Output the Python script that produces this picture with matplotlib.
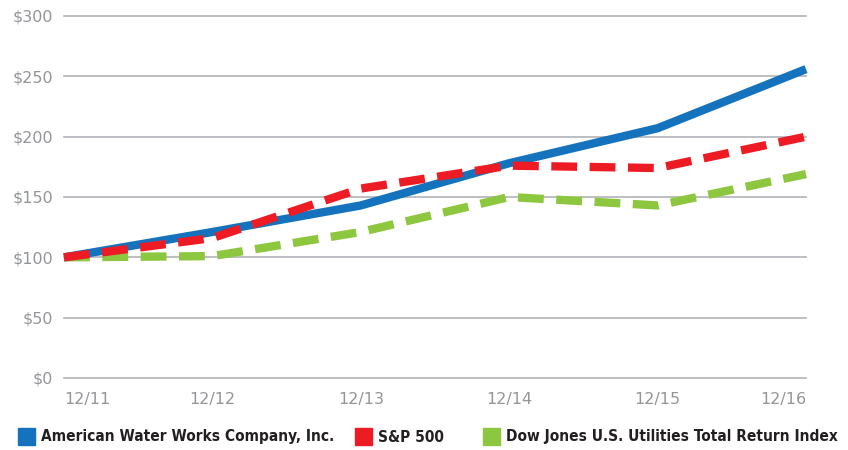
import numpy as np
import matplotlib
matplotlib.use('Agg')
import matplotlib.pyplot as plt
from matplotlib.patches import Rectangle

# data
periods = ['12/11', '12/12', '12/13', '12/14', '12/15', '12/16']
awk = [100, 121, 143, 178, 207, 256]
sp500 = [100, 116, 157, 176, 174, 200]
dj_util = [100, 101, 121, 150, 143, 169]
names = ['American Water Works Company, Inc.', 'S&P 500',
         'Dow Jones U.S. Utilities Total Return Index']
colors = ['#1473bc', '#ed1c24', '#8dc63f']

fig = plt.figure(figsize=(8.48, 4.5), dpi=100)
ax = fig.add_axes([64/848, 1-378/450, (806-64)/848, (378-16)/450])

x = np.arange(len(periods))
ax.plot(x, awk, color=colors[0], lw=6, solid_capstyle='butt', zorder=3, clip_on=False)
ax.plot(x, sp500, color=colors[1], lw=6, dashes=(3.1, 1.5), dash_capstyle='butt', zorder=4, clip_on=False)
ax.plot(x, dj_util, color=colors[2], lw=6, dashes=(3.1, 1.5), dash_capstyle='butt', zorder=2, clip_on=False)

ax.set_xlim(0, 5)
ax.set_ylim(0, 300)
ax.set_yticks(np.arange(0, 301, 50))
ax.set_yticklabels(['$%d' % v for v in range(0, 301, 50)])
for v in range(0, 301, 50):
    ax.axhline(v, color='#b1b3b6', lw=1.2, zorder=1, clip_on=False)
for s in ax.spines.values():
    s.set_visible(False)
ax.tick_params(axis='both', length=0, colors='#939598', labelsize=11.5)
ax.tick_params(axis='y', pad=8)
ax.tick_params(axis='x', pad=10)
ax.set_xticks(x)
ax.set_xticklabels(periods)
labs = ax.get_xticklabels()
labs[0].set_ha('left')
labs[-1].set_ha('right')

# legend row drawn by hand to match spacing
leg_font = {'family': ['DejaVu Sans'], 'stretch': 'condensed', 'weight': 'bold', 'size': 11.1}
sq_x = [18, 355, 483]
for sx, c, n in zip(sq_x, colors, names):
    fig.patches.append(Rectangle((sx/848, 1-445/450), 17/848, 17/450,
                                 transform=fig.transFigure, color=c))
    fig.text((sx+23)/848, 1-437/450, n, va='center', ha='left', color='#231f20', **leg_font)

fig.savefig('out.png', dpi=100)
